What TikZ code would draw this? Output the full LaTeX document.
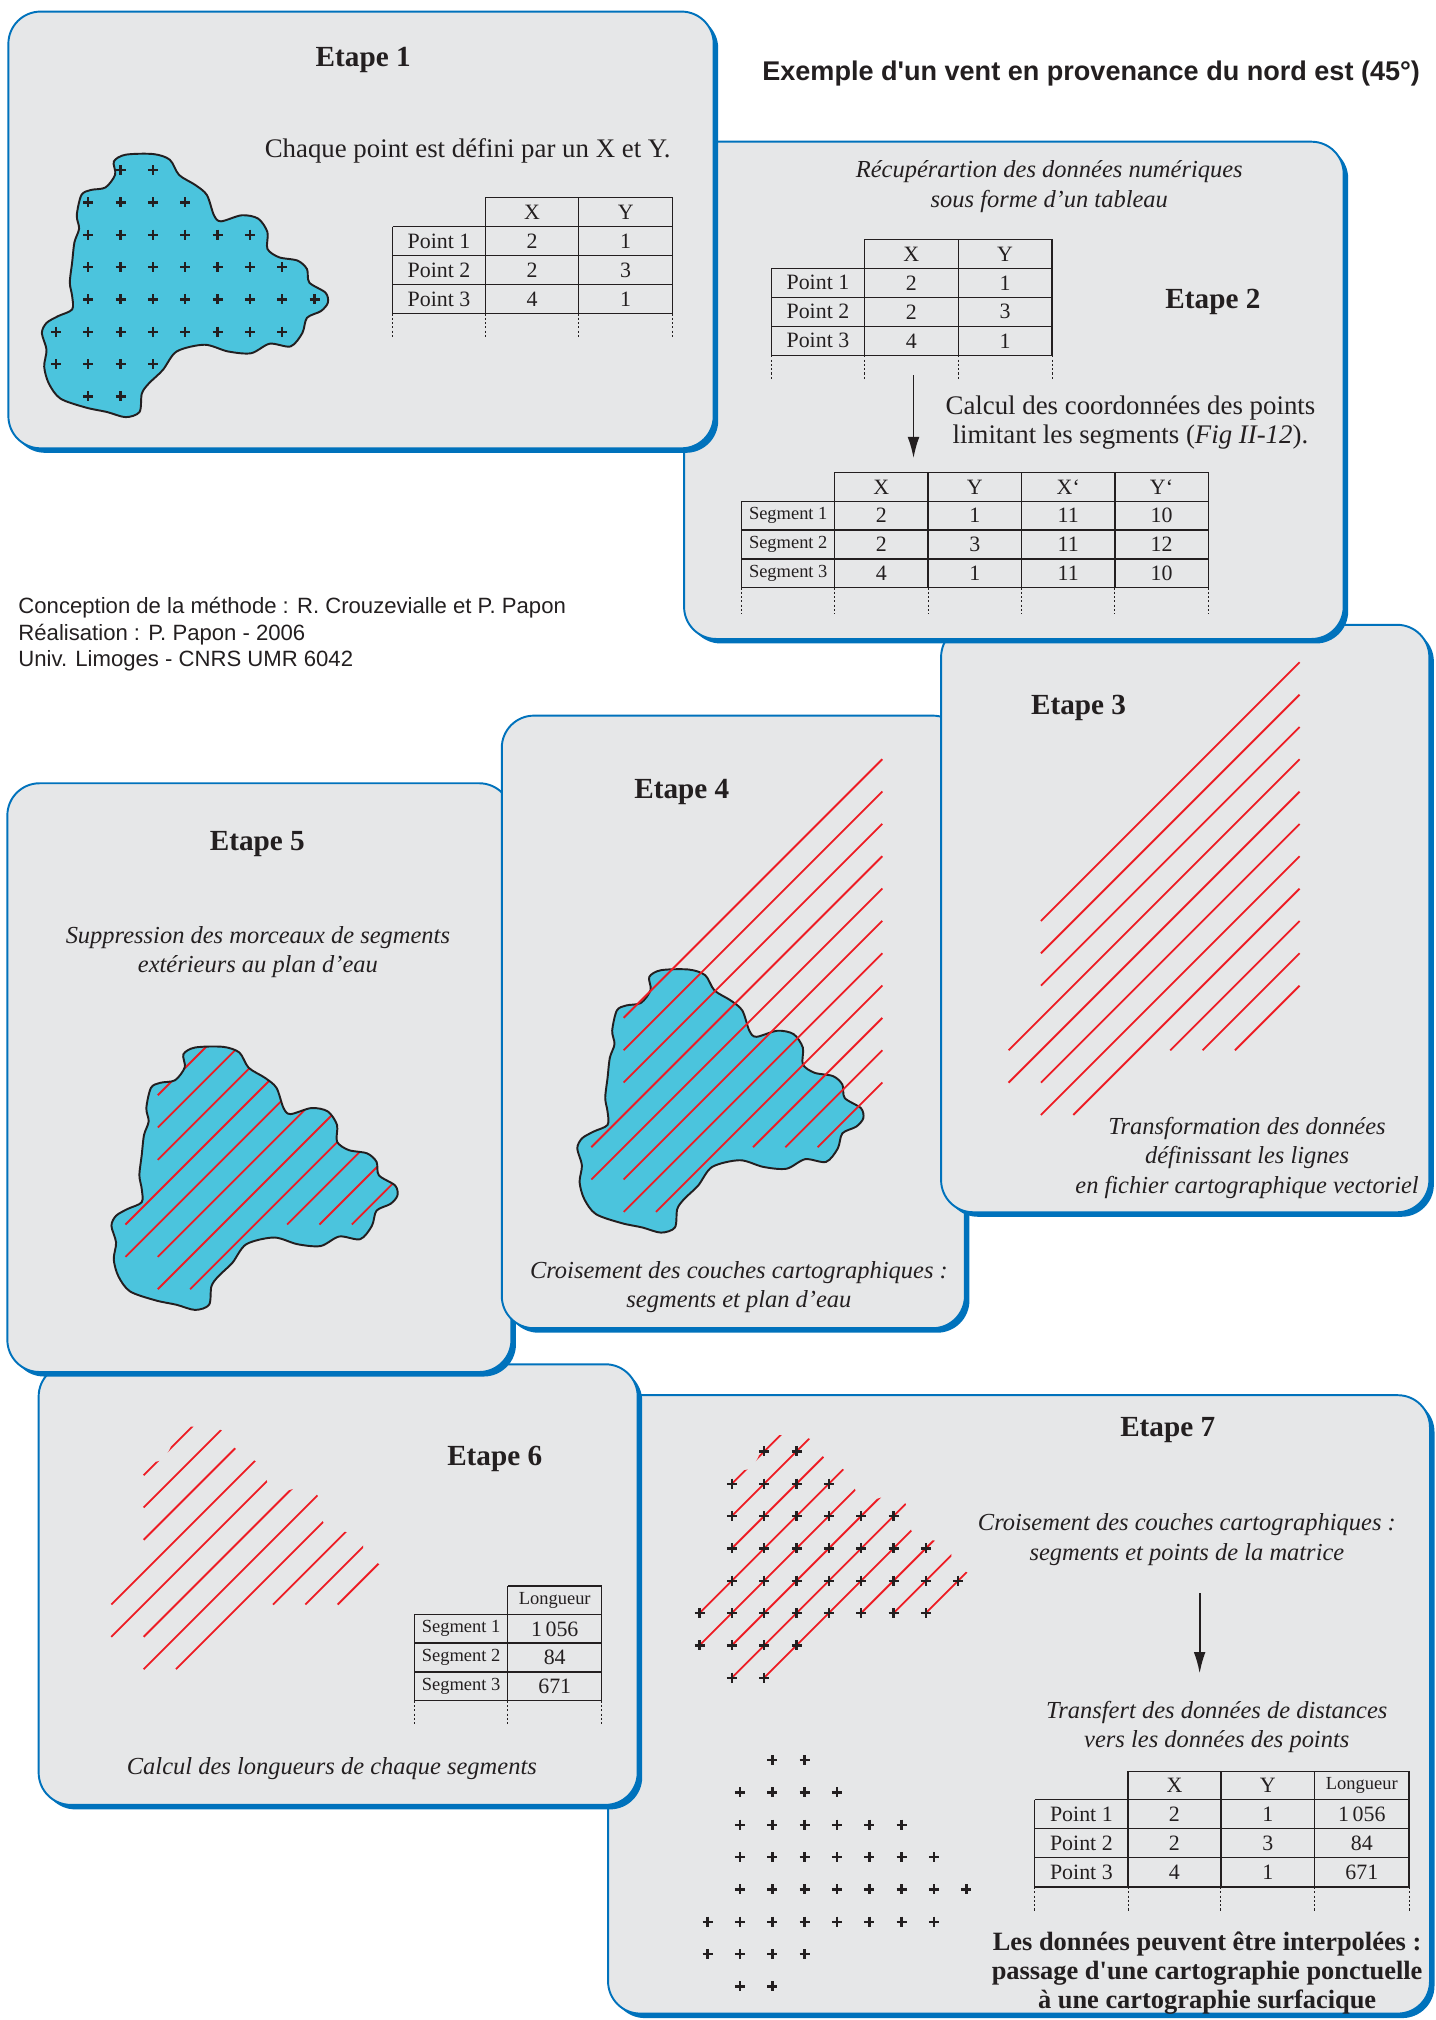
\documentclass[tikz,border=0pt]{standalone}
\usepackage{fontspec}
\setmainfont{Liberation Serif}
\setsansfont{Liberation Sans}
\usetikzlibrary{arrows.meta}

\definecolor{panelgray}{RGB}{230,231,232}
\definecolor{panelblue}{RGB}{0,114,188}
\definecolor{lakecyan}{RGB}{75,196,221}
\definecolor{windred}{RGB}{237,28,36}
\definecolor{inkgray}{RGB}{35,31,32}

\newcommand{\etapefont}{\fontsize{13.6}{16}\selectfont\bfseries}
\newcommand{\legendefont}{\fontsize{11.4}{13.6}\selectfont\itshape}
\newcommand{\corpsfont}{\fontsize{12.5}{13.3}\selectfont}
\newcommand{\bilanfont}{\fontsize{12.3}{13.5}\selectfont\bfseries}
\newcommand{\titrefont}{\sffamily\fontsize{12.6}{14}\selectfont\bfseries}
\newcommand{\creditsfont}{\sffamily\fontsize{10.3}{12.2}\selectfont}
\newcommand{\cellfont}{\fontsize{10.2}{12}\selectfont}
\newcommand{\smallcellfont}{\fontsize{8.6}{10}\selectfont}

% pas de la grille de points
\newcommand{\pasgrille}{25.1}

% contour du plan d'eau (origine = premier point de la grille)
\newcommand{\contourlac}{plot[smooth cycle, tension=0.5] coordinates {
  (45,-6.7) (54.1,-11.9) (75.7,-12.4) (88.4,-8.0) (95.6,3.8) (108.2,11.6)
  (117.2,19.4) (122.7,35.1) (128.1,39.8) (144.3,35.1) (157.0,37.7) (164.2,48.2)
  (164.2,61.2) (173.2,67.7) (187.6,70.3) (194.9,76.9) (196.7,87.3) (209.3,95.2)
  (211.1,103.0) (205.7,109.5) (194.9,114.7) (191.3,126.5) (182.2,136.9) (166.0,134.8)
  (151.5,142.2) (133.5,140.8) (115.4,135.6) (93.8,140.8) (83.0,155.2) (72.1,165.7)
  (66.7,173.5) (64.9,187.8) (54.1,191.8) (39.6,187.8) (23.4,184.4) (3.5,177.4)
  (-5.5,165.7) (-9.1,152.6) (-7.3,139.5) (-10.9,126.5) (-7.3,118.7) (1.7,113.4)
  (12.6,108.2) (12.6,97.8) (10.8,87.3) (12.6,71.7) (14.4,56.0) (18.0,45.5)
  (16.2,35.1) (19.8,19.4) (27.0,15.5) (38.5,13.5) (46,3.5)}}

% segments a 45 degres : depart sur un point de la grille, fin sur la colonne 9
\newcommand{\traitsvent}{%
  \foreach \kk/\col/\row in {0/1/1,1/1/2,2/1/3,3/0/5,4/0/6,5/1/6,6/1/7,7/2/7,8/5/5,9/6/5,10/7/5}
    \draw[wind_line] ({\col*\pasgrille},{\row*\pasgrille}) -- ({9*\pasgrille},{(\kk-7)*\pasgrille});}

% matrice de points
\newcommand{\semis}{%
  \foreach \row/\ca/\cb in {0/2/3,1/1/4,2/1/6,3/1/7,4/1/8,5/0/7,6/0/3,7/1/2}
    \foreach \col in {\ca,...,\cb}
      \pic at ({\col*\pasgrille},{\row*\pasgrille}) {croix};}

% cadre avec ombre bleue
\newcommand{\panneau}[4]{%
  \fill[panelblue, rounded corners=15pt] ({#1+3.5},{#2+3.5}) rectangle ({#3+3.5},{#4+3.5});
  \filldraw[panel] (#1,#2) rectangle (#3,#4);}

\begin{document}
\begin{tikzpicture}[x=0.6pt, y=-0.6pt,
    panel/.style={fill=panelgray, draw=panelblue, line width=0.9pt, rounded corners=15pt},
    etape/.style={font=\etapefont, text=inkgray},
    legende/.style={font=\legendefont, text=inkgray, align=center},
    corps/.style={font=\corpsfont, text=inkgray, align=center},
    bilan/.style={font=\bilanfont, text=inkgray, align=center},
    titre/.style={font=\titrefont, text=inkgray},
    credits/.style={font=\creditsfont, text=inkgray, align=left, inner sep=0pt},
    cell/.style={font=\cellfont, text=inkgray, inner sep=0pt},
    smallcell/.style={font=\smallcellfont, text=inkgray, inner sep=0pt},
    grid_line/.style={draw=inkgray, line width=0.6pt},
    grid_dots/.style={draw=inkgray, line width=0.4pt, dash pattern=on 1pt off 1pt},
    wind_line/.style={draw=windred, line width=0.85pt},
    lac/.style={fill=lakecyan, draw=inkgray, line width=0.9pt},
    fleche/.style={-{Latex[length=10pt, width=5.5pt]}, draw=inkgray, line width=0.9pt},
    croix/.pic={\draw[inkgray, line width=1.1pt] (-3.9,0) -- (3.9,0) (0,-3.9) -- (0,3.9);}
  ]

  \useasboundingbox (0,0) rectangle (1114,1568);
  \fill[white] (0,0) rectangle (1114,1568);

  % ---------- Etape 7
  \panneau{472}{1083}{1110}{1563}
  \node[etape] (etape7) at (906.4,1110.4) {Etape 7};
  \begin{scope}[shift={(543,1126.6)}]
    \begin{scope}
      \clip \contourlac;
      \traitsvent
    \end{scope}
    \semis
  \end{scope}
  \begin{scope}[shift={(549.3,1366.2)}]
    \semis
  \end{scope}
  \node[legende] (croisement7) at (921.3,1195.1) {Croisement des couches cartographiques :\\segments et points de la matrice};
  \coordinate (f7a) at (931.2,1236.7);
  \coordinate (f7b) at (931.2,1299);
  \draw[fleche] (f7a) -- (f7b);
  \node[legende] (transfert) at (944.5,1340.4) {Transfert des données de distances\\vers les données des points};
  \draw[grid_line] (875.6,1374.9) -- (1093.7,1374.9);
  \foreach \y in {1397,1419.5,1442,1464.7} \draw[grid_line] (803.2,\y) -- (1093.7,\y);
  \draw[grid_line] (803.2,1397) -- (803.2,1464.7);
  \foreach \x in {875.6,947.7,1020.5,1093.7} \draw[grid_line] (\x,1374.9) -- (\x,1464.7);
  \foreach \x in {803.2,875.6,947.7,1020.5,1093.7} \draw[grid_dots] (\x,1464.7) -- (\x,1483.7);
  \node[cell] (t7x) at (911.65,1385.95) {X};
  \node[cell] (t7y) at (984.1,1385.95) {Y};
  \node[smallcell] (t7l) at (1057.1,1385.95) {Longueur};
  \foreach \n/\va/\vb/\vc [count=\i] in {1/2/1/{1\,056},2/2/3/84,3/4/1/671} {
    \node[cell] (t7p\i) at (839.4,{1385.95+22.45*\i}) {Point \n};
    \node[cell] (t7a\i) at (911.65,{1385.95+22.45*\i}) {\va};
    \node[cell] (t7b\i) at (984.1,{1385.95+22.45*\i}) {\vb};
    \node[cell] (t7c\i) at (1057.1,{1385.95+22.45*\i}) {\vc};
  }
  \node[bilan] (interpolation) at (937,1531.5) {Les données peuvent être interpolées :\\passage d\textquotesingle une cartographie ponctuelle\\à une cartographie surfacique};

  % ---------- Etape 6
  \panneau{30}{1059}{495}{1401}
  \node[etape] (etape6) at (384,1132.2) {Etape 6};
  \begin{scope}[shift={(86.4,1120)}]
    \clip \contourlac;
    \traitsvent
  \end{scope}
  \draw[grid_line] (394.2,1231.1) -- (467,1231.1);
  \foreach \y in {1253.1,1275.4,1297.9,1320.1} \draw[grid_line] (321.7,\y) -- (467,\y);
  \draw[grid_line] (321.7,1253.1) -- (321.7,1320.1);
  \foreach \x in {394.2,467} \draw[grid_line] (\x,1231.1) -- (\x,1320.1);
  \foreach \x in {321.7,394.2,467} \draw[grid_dots] (\x,1320.1) -- (\x,1340);
  \node[smallcell] (t6l) at (430.6,1242.1) {Longueur};
  \foreach \n/\va [count=\i] in {1/{1\,056},2/84,3/671} {
    \node[smallcell] (t6s\i) at (357.95,{1242.1+22.25*\i}) {Segment \n};
    \node[cell] (t6a\i) at (430.6,{1242.1+22.25*\i}) {\va};
  }
  \node[legende] (longueurs) at (257.6,1373) {Calcul des longueurs de chaque segments};

  % ---------- Etape 5
  \panneau{5.7}{608}{397}{1065}
  \node[etape] (etape5) at (199.8,654.8) {Etape 5};
  \node[legende] (suppression) at (200.2,739.2) {Suppression des morceaux de segments\\extérieurs au plan d’eau};
  \begin{scope}[shift={(97.4,825)}]
    \fill[lakecyan] \contourlac;
    \begin{scope}
      \clip \contourlac;
      \traitsvent
    \end{scope}
    \draw[inkgray, line width=0.9pt] \contourlac;
  \end{scope}

  % ---------- Etape 4
  \panneau{389.5}{555.5}{749}{1031}
  \node[etape] (etape4) at (529.2,614.6) {Etape 4};
  \begin{scope}[shift={(459,765)}]
    \filldraw[lac] \contourlac;
    \traitsvent
  \end{scope}
  \node[legende] (croisement4) at (573.6,999.3) {Croisement des couches cartographiques :\\segments et plan d’eau};

  % ---------- Etape 3
  \panneau{730.5}{485}{1109.5}{941}
  \node[etape] (etape3) at (837.2,549.7) {Etape 3};
  \begin{scope}[shift={(782.9,689.8)}]
    \traitsvent
  \end{scope}
  \node[legende] (transformation) at (968,898.8) {Transformation des données\\définissant les lignes\\en fichier cartographique vectoriel};

  % ---------- Etape 2
  \panneau{531}{110}{1043}{496}
  \node[legende] (recuperation) at (814.5,144.8) {Récupérartion des données numériques\\sous forme d’un tableau};
  \draw[grid_line] (671.1,185.8) -- (816.6,185.8);
  \foreach \y in {208.3,230.8,253.3,275.8} \draw[grid_line] (598.7,\y) -- (816.6,\y);
  \draw[grid_line] (598.7,208.3) -- (598.7,275.8);
  \foreach \x in {671.1,743.8,816.6} \draw[grid_line] (\x,185.8) -- (\x,275.8);
  \foreach \x in {598.7,671.1,743.8,816.6} \draw[grid_dots] (\x,275.8) -- (\x,295);
  \node[cell] (t2x) at (707.45,197.05) {X};
  \node[cell] (t2y) at (780.2,197.05) {Y};
  \foreach \n/\va/\vb [count=\i] in {1/2/1,2/2/3,3/4/1} {
    \node[cell] (t2p\i) at (634.9,{197.05+22.5*\i}) {Point \n};
    \node[cell] (t2a\i) at (707.45,{197.05+22.5*\i}) {\va};
    \node[cell] (t2b\i) at (780.2,{197.05+22.5*\i}) {\vb};
  }
  \node[etape] (etape2) at (941.5,234.2) {Etape 2};
  \coordinate (f2a) at (709.1,291.1);
  \coordinate (f2b) at (709.1,355.8);
  \draw[fleche] (f2a) -- (f2b);
  \node[corps] (calcul) at (877.5,328) {Calcul des coordonnées des points\\limitant les segments (\textit{Fig II-12}).};
  \draw[grid_line] (647.9,366.7) -- (937.8,366.7);
  \foreach \y in {389.2,411.5,434.0,456.0} \draw[grid_line] (575.8,\y) -- (937.8,\y);
  \draw[grid_line] (575.8,389.2) -- (575.8,456.0);
  \foreach \x in {647.9,720.3,793.0,865.4,937.8} \draw[grid_line] (\x,366.7) -- (\x,456.0);
  \foreach \x in {575.8,647.9,720.3,793.0,865.4,937.8} \draw[grid_dots] (\x,456.0) -- (\x,476.2);
  \node[cell] (t3x) at (684.1,377.95) {X};
  \node[cell] (t3y) at (756.65,377.95) {Y};
  \node[cell] (t3xx) at (829.2,377.95) {X‘};
  \node[cell] (t3yy) at (901.6,377.95) {Y‘};
  \foreach \n/\va/\vb/\vc/\vd [count=\i] in {1/2/1/11/10,2/2/3/11/12,3/4/1/11/10} {
    \node[smallcell] (t3s\i) at (611.85,{377.95+22.3*\i}) {Segment \n};
    \node[cell] (t3a\i) at (684.1,{377.95+22.3*\i}) {\va};
    \node[cell] (t3b\i) at (756.65,{377.95+22.3*\i}) {\vb};
    \node[cell] (t3c\i) at (829.2,{377.95+22.3*\i}) {\vc};
    \node[cell] (t3d\i) at (901.6,{377.95+22.3*\i}) {\vd};
  }

  % ---------- Etape 1
  \panneau{6.5}{9}{554}{348}
  \node[etape] (etape1) at (281.9,46.6) {Etape 1};
  \node[corps] (definition) at (363,117) {Chaque point est défini par un X et Y.};
  \begin{scope}[shift={(43.4,132)}]
    \filldraw[lac] \contourlac;
    \semis
  \end{scope}
  \draw[grid_line] (376.9,153.2) -- (522.2,153.2);
  \foreach \y in {176.0,198.5,220.8,243.3} \draw[grid_line] (304.7,\y) -- (522.2,\y);
  \draw[grid_line] (304.7,176.0) -- (304.7,243.3);
  \foreach \x in {376.9,449.2,522.2} \draw[grid_line] (\x,153.2) -- (\x,243.3);
  \foreach \x in {304.7,376.9,449.2,522.2} \draw[grid_dots] (\x,243.3) -- (\x,262.7);
  \node[cell] (t1x) at (413.0,164.6) {X};
  \node[cell] (t1y) at (485.7,164.6) {Y};
  \foreach \n/\va/\vb [count=\i] in {1/2/1,2/2/3,3/4/1} {
    \node[cell] (t1p\i) at (340.8,{164.8+22.4*\i}) {Point \n};
    \node[cell] (t1a\i) at (413.0,{164.8+22.4*\i}) {\va};
    \node[cell] (t1b\i) at (485.7,{164.8+22.4*\i}) {\vb};
  }

  % ---------- titre et credits
  \node[titre] (titre) at (847,56.9) {Exemple d\textquotesingle un vent en provenance du nord est (45°)};
  \node[credits, anchor=west] (auteurs) at (14,492.3) {Conception de la méthode : R. Crouzevialle et P. Papon\\Réalisation : P. Papon - 2006\\Univ. Limoges - CNRS UMR 6042};

\end{tikzpicture}
\end{document}
